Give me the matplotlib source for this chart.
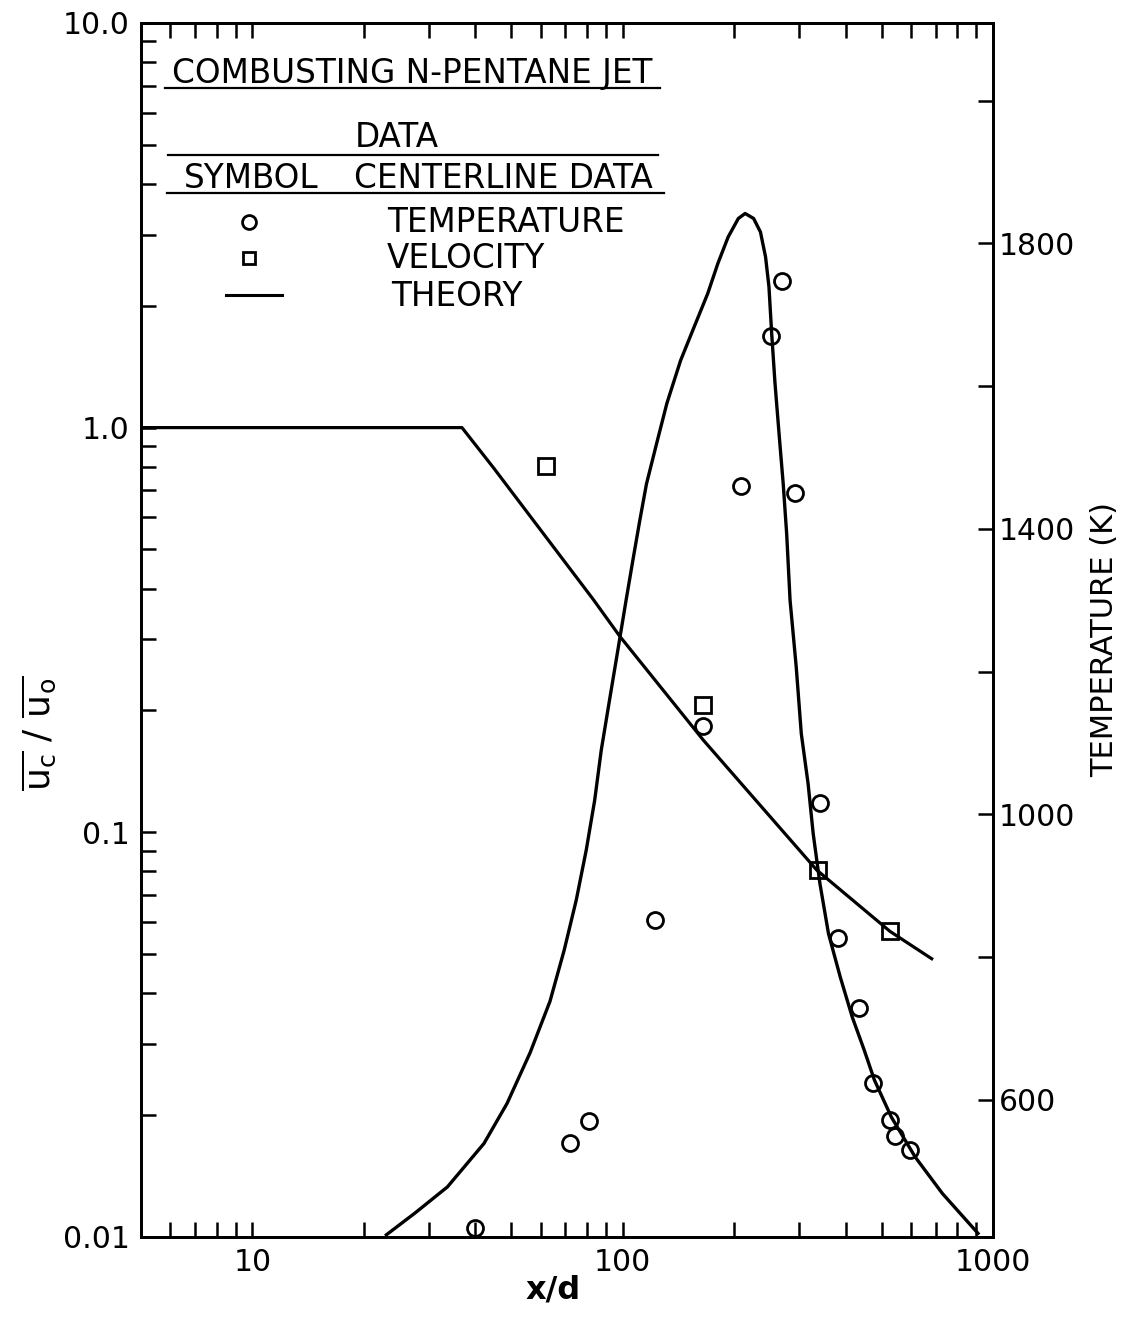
import numpy as np
import matplotlib
matplotlib.use('Agg')
import matplotlib.pyplot as plt
from matplotlib.ticker import FixedLocator, FixedFormatter, LogLocator, NullFormatter

plt.rcParams['font.family'] = ['DejaVu Sans']

# theory curve for centerline temperature (x/d, K)
temp_theory_x = [23.0, 27.4, 33.6, 42.2, 48.7, 56.2, 63.6, 69.5, 74.9, 79.7, 84.0,
                 87.5, 92.1, 97.0, 102.1, 106.5, 111.2, 115.9, 123.5, 131.6, 143.3,
                 155.9, 169.7, 180.7, 192.6, 205.2, 214.1, 225.7, 235.5, 243.1, 248.3,
                 252.5, 257.8, 264.4, 271.3, 277.2, 283.1, 294.1, 303.6, 316.7, 326.9,
                 340.9, 359.5, 386.9, 416.8, 448.8, 478.2, 531.4, 616.4, 729.7, 911]
temp_theory_t = [411, 441, 478, 539, 595, 666, 738, 810, 880, 950, 1020,
                 1090, 1160, 1230, 1300, 1356, 1412, 1463, 1520, 1576, 1636,
                 1683, 1730, 1772, 1809, 1835, 1842, 1835, 1816, 1781, 1739,
                 1674, 1604, 1533, 1463, 1393, 1300, 1207, 1113, 1043, 973,
                 903, 833, 772, 716, 670, 628, 576, 520, 469, 413]

# theory curve for centerline velocity (x/d, uc/uo)
vel_theory_x = [5, 36.8, 44.8, 83.1, 98.2, 165, 334, 527, 683]
vel_theory_u = [1.0, 1.0, 0.795, 0.377, 0.305, 0.169, 0.0807, 0.0569, 0.0487]

# measured temperature (circles)
temp_x = [40, 72, 81, 122, 165, 209, 251, 269, 292, 342, 381, 435, 473, 528, 544, 598]
temp_t = [420, 540, 570, 852, 1124, 1460, 1670, 1748, 1450, 1016, 827, 729, 624, 572, 549, 530]

# measured velocity (squares)
vel_x = [62, 165, 336, 527]
vel_u = [0.805, 0.206, 0.0807, 0.0569]

fig = plt.figure(figsize=(11.27, 13.18), dpi=100)
ax = fig.add_axes([0.1251, 0.0615, 0.7560, 0.9211])
ax2 = ax.twinx()

ax.set_xscale('log')
ax.set_yscale('log')
ax.set_xlim(5, 1000)
ax.set_ylim(0.01, 10)
ax2.set_ylim(408, 2109)

ax.plot(vel_theory_x, vel_theory_u, 'k-', lw=2.3)
ax.plot(vel_x, vel_u, 's', mfc='none', mec='k', mew=2, ms=11)
ax2.plot(temp_theory_x, temp_theory_t, 'k-', lw=2.4)
ax2.plot(temp_x, temp_t, 'o', mfc='none', mec='k', mew=2, ms=11.5, clip_on=False)

# ticks
ax.xaxis.set_major_locator(FixedLocator([10, 100, 1000]))
ax.xaxis.set_major_formatter(FixedFormatter(['10', '100', '1000']))
ax.xaxis.set_minor_locator(LogLocator(base=10, subs=np.arange(2, 10)))
ax.xaxis.set_minor_formatter(NullFormatter())
ax.yaxis.set_major_locator(FixedLocator([0.01, 0.1, 1, 10]))
ax.yaxis.set_major_formatter(FixedFormatter(['0.01', '0.1', '1.0', '10.0']))
ax.yaxis.set_minor_locator(LogLocator(base=10, subs=np.arange(2, 10)))
ax.yaxis.set_minor_formatter(NullFormatter())

ax.tick_params(which='both', direction='in', top=True, right=False,
               length=11, width=1.8, labelsize=21.5)
ax.tick_params(axis='x', pad=8)
ax.tick_params(axis='y', pad=8)

t_ticks = list(range(600, 2001, 200))
ax2.yaxis.set_major_locator(FixedLocator(t_ticks))
ax2.yaxis.set_major_formatter(FixedFormatter(['600', '', '1000', '', '1400', '', '1800', '']))
ax2.tick_params(axis='y', direction='in', length=11, width=1.8, labelsize=21.5, pad=4)

for a in (ax, ax2):
    for s in a.spines.values():
        s.set_linewidth(2)

# axis labels
ax.set_xlabel('x/d', fontsize=23, fontweight='bold', va='center')
ax.xaxis.set_label_coords(0.4836, -0.0437)
ax.set_ylabel(r'$\overline{\mathrm{u}_{\mathrm{c}}}\ /\ \overline{\mathrm{u}_{\mathrm{o}}}$',
              fontsize=26, va='center')
ax.yaxis.set_label_coords(-0.12, 0.415)
ax2.set_ylabel('TEMPERATURE (K)', fontsize=22, va='center')
ax2.yaxis.set_label_coords(1.131, 0.492)

# key drawn inside the plot
tr = ax.transAxes
fs = 23.5
ax.text(0.318, 0.958, 'COMBUSTING N-PENTANE JET', transform=tr, fontsize=fs, ha='center', va='center')
ax.plot([0.028, 0.609], [0.9465, 0.9465], 'k-', lw=1.6, transform=tr)
ax.text(0.300, 0.906, 'DATA', transform=tr, fontsize=fs, ha='center', va='center')
ax.plot([0.032, 0.607], [0.891, 0.891], 'k-', lw=1.6, transform=tr)
ax.text(0.129, 0.872, 'SYMBOL', transform=tr, fontsize=fs, ha='center', va='center')
ax.text(0.425, 0.872, 'CENTERLINE DATA', transform=tr, fontsize=fs, ha='center', va='center')
ax.plot([0.030, 0.614], [0.860, 0.860], 'k-', lw=1.6, transform=tr)

ax.plot([0.127], [0.836], 'o', mfc='none', mec='k', mew=2, ms=10, transform=tr)
ax.text(0.289, 0.836, 'TEMPERATURE', transform=tr, fontsize=fs, ha='left', va='center')
ax.plot([0.127], [0.806], 's', mfc='none', mec='k', mew=2, ms=9, transform=tr)
ax.text(0.289, 0.806, 'VELOCITY', transform=tr, fontsize=fs, ha='left', va='center')
ax.plot([0.100, 0.166], [0.776, 0.776], 'k-', lw=2.2, transform=tr)
ax.text(0.294, 0.775, 'THEORY', transform=tr, fontsize=fs, ha='left', va='center')

fig.savefig('out.png', dpi=100)
